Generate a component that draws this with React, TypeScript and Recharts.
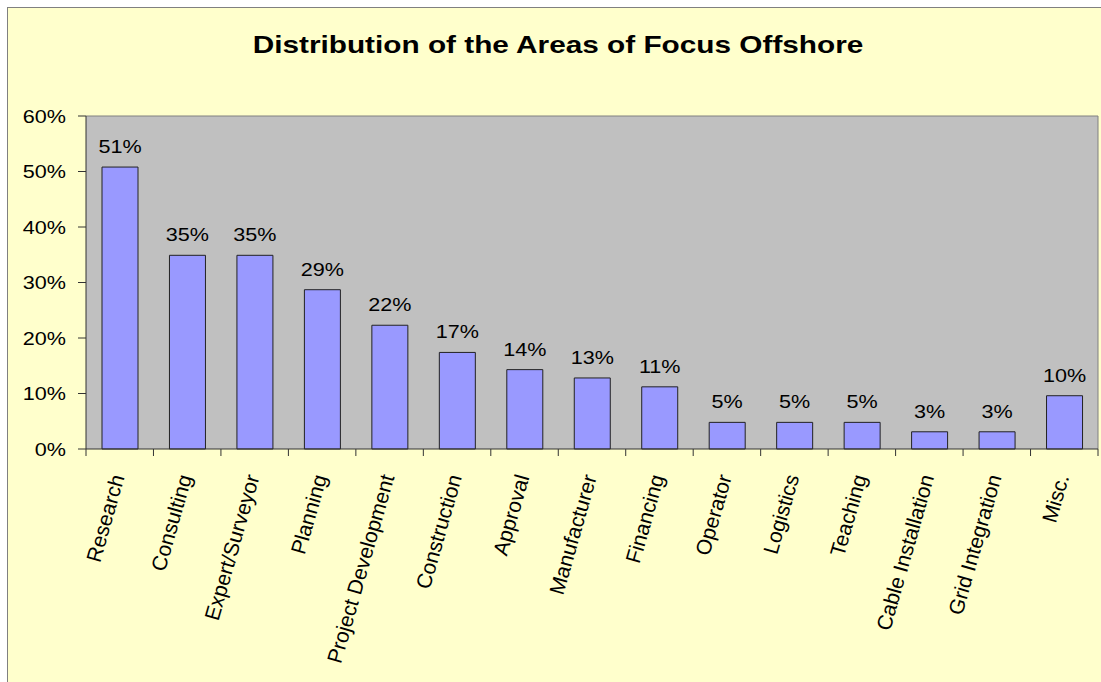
import React from 'react';
import { BarChart, Bar, XAxis, YAxis, CartesianGrid, ReferenceLine, LabelList } from 'recharts';

const AREAS = [
  'Research',
  'Consulting',
  'Expert/Surveyor',
  'Planning',
  'Project Development',
  'Construction',
  'Approval',
  'Manufacturer',
  'Financing',
  'Operator',
  'Logistics',
  'Teaching',
  'Cable Installation',
  'Grid Integration',
  'Misc.',
];

const SHARES = [50.8, 34.9, 34.9, 28.7, 22.3, 17.4, 14.3, 12.8, 11.2, 4.8, 4.8, 4.8, 3.1, 3.1, 9.6];

const Y_TICKS = [0, 10, 20, 30, 40, 50, 60];

const TITLE = 'Distribution of the Areas of Focus Offshore';

const FONT = '"Liberation Sans", Arial, sans-serif';
const STRETCH = 1.2;

const data = AREAS.map((area, i) => ({ area, share: SHARES[i] }));

const YTick = (props: any) => {
  const { x, y, payload } = props;
  return (
    <g transform={`translate(${x},${y + 6.5}) scale(${STRETCH},1)`}>
      <text x={0} y={0} textAnchor="end" fontFamily={FONT} fontSize={18} fill="#000">
        {`${payload.value}%`}
      </text>
    </g>
  );
};

const XTick = (props: any) => {
  const { x, y, payload } = props;
  const half = payload.offset ?? 0;
  const axisY = y - 7;
  const last = payload.index === AREAS.length - 1;
  return (
    <g>
      <line x1={x - half} x2={x - half} y1={axisY} y2={y} stroke="#333" />
      {last && <line x1={x + half} x2={x + half} y1={axisY} y2={y} stroke="#333" />}
      <text
        x={0}
        y={0}
        transform={`translate(${x + 5},${y + 21}) rotate(-74)`}
        textAnchor="end"
        fontFamily={FONT}
        fontSize={21}
        fill="#000"
      >
        {payload.value}
      </text>
    </g>
  );
};

const ValueLabel = (props: any) => {
  const { x, y, width, value } = props;
  return (
    <g transform={`translate(${x + width / 2},${y - 14}) scale(${STRETCH},1)`}>
      <text x={0} y={0} textAnchor="middle" fontFamily={FONT} fontSize={18} fill="#000">
        {`${Math.round(value)}%`}
      </text>
    </g>
  );
};

export default function App() {
  return (
    <div style={{ position: 'fixed', left: 0, top: 0, width: 1101, height: 682, overflow: 'hidden', background: '#fff' }}>
      <div
        style={{
          position: 'absolute',
          left: 7,
          top: 7,
          width: 1100,
          height: 680,
          border: '1px solid #808080',
          background: '#FFFFCC',
        }}
      >
        <div
          style={{
            position: 'absolute',
            left: 0,
            top: 25,
            width: 1100,
            textAlign: 'center',
            fontFamily: FONT,
            fontWeight: 'bold',
            fontSize: 24,
            lineHeight: '24px',
            transform: 'scaleX(1.24)',
            transformOrigin: '550px 0',
          }}
        >
          {TITLE}
        </div>
        <BarChart width={1100} height={680} data={data} margin={{ top: 108, right: 10, bottom: 0, left: 0 }}>
          <CartesianGrid fill="#C0C0C0" horizontal={false} vertical={false} />
          <ReferenceLine y={60} stroke="#808080" />
          <ReferenceLine x="Misc." position="end" stroke="#808080" />
          <XAxis
            dataKey="area"
            interval={0}
            height={239}
            tickSize={7}
            tickMargin={0}
            tickLine={false}
            axisLine={{ stroke: '#333' }}
            tick={<XTick />}
          />
          <YAxis
            domain={[0, 60]}
            ticks={Y_TICKS}
            width={78}
            tickSize={8}
            tickMargin={12}
            axisLine={{ stroke: '#333' }}
            tickLine={{ stroke: '#333' }}
            tick={<YTick />}
          />
          <Bar dataKey="share" fill="#9999FF" stroke="#222" strokeWidth={1} barSize={36} isAnimationActive={false}>
            <LabelList dataKey="share" content={<ValueLabel />} />
          </Bar>
        </BarChart>
      </div>
    </div>
  );
}
